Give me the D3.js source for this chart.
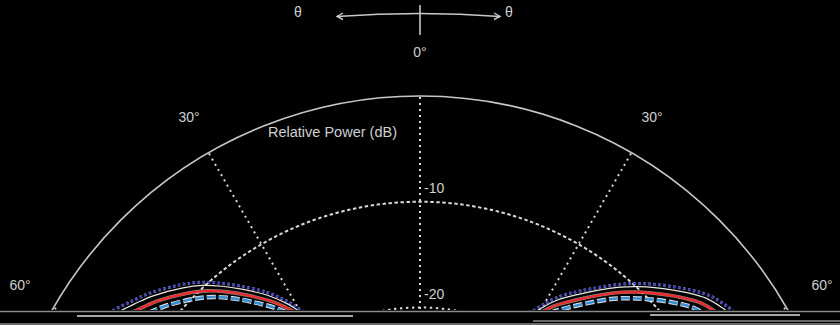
<!DOCTYPE html>
<html><head><meta charset="utf-8">
<script src="https://cdn.jsdelivr.net/npm/d3@7"></script>
<style>html,body{margin:0;padding:0;background:#000;}svg{display:block;}</style>
</head><body><div id="chart"></div>
<script>
// ---- data ----
const angleTicks = [-60, -30, 0, 30, 60];
const angleTickLabels = ["60°", "30°", "0°", "30°", "60°"];
const ringValues = [-10, -20];
const ringLabels = ["-10", "-20"];
const radialDomain = [-40, 0];

const angleL = [-58, -55.9, -52.7, -50.1, -45.7, -43.0, -40.4, -37.8, -34.1, -31.5, -29.9, -28];
const angleR = [28, 29.9, 32.2, 35.2, 40.5, 43.1, 45.7, 49.7, 52.4, 55.2, 58];

const navyL  = [-4.4, -4.9, -5.9, -6.7, -8.3, -9.4, -10.7, -12.1, -14.1, -15.8, -17.1, -18.5];
const whiteL = [-4.8, -5.3, -6.3, -7.1, -8.7, -9.8, -11.1, -12.5, -14.5, -16.2, -17.5, -18.9];
const redL   = [-5.5, -6.0, -7.0, -7.8, -9.4, -10.5, -11.8, -13.2, -15.2, -16.9, -18.2, -19.6];
const blueL  = [-6.3, -6.8, -7.8, -8.6, -10.2, -11.3, -12.6, -14.0, -16.0, -17.7, -19.0, -20.4];

const navyR  = [-18.0, -16.6, -15.1, -13.6, -10.8, -9.5, -8.3, -6.5, -5.4, -4.7, -4.1];
const whiteR = [-18.4, -17.0, -15.5, -14.0, -11.2, -9.9, -8.7, -6.9, -5.8, -5.1, -4.5];
const redR   = [-19.1, -17.7, -16.2, -14.7, -11.9, -10.6, -9.4, -7.6, -6.5, -5.8, -5.2];
const blueR  = [-19.9, -18.5, -17.0, -15.5, -12.7, -11.4, -10.2, -8.4, -7.3, -6.6, -6.0];

const axisTitle = "Relative Power (dB)";
const dirLabel = "θ";

// ---- layout ----
const W = 840, H = 325;
const cx = 420, cy = 519, R = 423, clipY = 310;
const svg = d3.select("#chart").append("svg").attr("width", W).attr("height", H)
  .style("background", "#000");

const r = d3.scaleLinear().domain(radialDomain).range([0, R]);
const toRad = d => d * Math.PI / 180;

const defs = svg.append("defs");
defs.append("clipPath").attr("id", "clip").append("rect")
  .attr("x", -cx).attr("y", -cy).attr("width", W).attr("height", clipY);

const g = svg.append("g").attr("transform", `translate(${cx},${cy})`);
const plot = g.append("g").attr("clip-path", "url(#clip)");

const gridCol = "#d8d8d8";

// outer ring (0 dB)
const arc = d3.arc();
plot.append("path")
  .attr("d", arc({innerRadius: r(0), outerRadius: r(0), startAngle: toRad(-90), endAngle: toRad(90)}))
  .attr("fill", "none").attr("stroke", "#c8c8c8").attr("stroke-width", 1.6);

// dotted rings
ringValues.forEach(v => {
  plot.append("path")
    .attr("d", arc({innerRadius: r(v), outerRadius: r(v), startAngle: toRad(-90), endAngle: toRad(90)}))
    .attr("fill", "none").attr("stroke", gridCol).attr("stroke-width", 2)
    .attr("stroke-dasharray", "2,4");
});

// radial lines
angleTicks.forEach(a => {
  const t = toRad(a);
  plot.append("line")
    .attr("x1", 0).attr("y1", 0)
    .attr("x2", r(0) * Math.sin(t)).attr("y2", -r(0) * Math.cos(t))
    .attr("stroke", gridCol).attr("stroke-width", 2).attr("stroke-dasharray", "2,4");
});

// series
const mk = (angles, vals) => angles.map((a, i) => [toRad(a), r(vals[i])]);
const line = d3.lineRadial().angle(d => d[0]).radius(d => d[1]).curve(d3.curveCatmullRom);

const series = [
  {L: blueL, Rv: blueR, color: "#ffffff", w: 4.5, dash: "9,3", op: 0.9},
  {L: blueL, Rv: blueR, color: "#3a8fd3", w: 2.6, dash: "9,3", op: 1},
  {L: redL, Rv: redR, color: "#ffffff", w: 3.6, dash: null, op: 0.5},
  {L: redL, Rv: redR, color: "#ee2a2a", w: 2.3, dash: null, op: 1},
  {L: whiteL, Rv: whiteR, color: "#e8e8e8", w: 1.2, dash: null, op: 1},
  {L: navyL, Rv: navyR, color: "#b8b8ee", w: 3, dash: "2.5,2.5", op: 0.8},
  {L: navyL, Rv: navyR, color: "#3434c4", w: 2, dash: "2.5,2.5", op: 1}
];
series.forEach(s => {
  [mk(angleL, s.L), mk(angleR, s.Rv)].forEach(pts => {
    plot.append("path").attr("d", line(pts))
      .attr("fill", "none").attr("stroke", s.color).attr("stroke-width", s.w)
      .attr("stroke-opacity", s.op)
      .attr("stroke-dasharray", s.dash);
  });
});

// labels
const font = "Liberation Sans, Arial, sans-serif";
const txtCol = "#cfcfcf";
const labelPos = {"-60": [20, 290], "-30": [189, 122], "0": [420, 57], "30": [652, 122], "60": [822, 290]};
angleTicks.forEach((a, i) => {
  const p = labelPos[String(a)];
  svg.append("text").attr("x", p[0]).attr("y", p[1]).attr("text-anchor", "middle")
    .attr("font-family", font).attr("font-size", 14).attr("fill", txtCol)
    .text(angleTickLabels[i]);
});
ringValues.forEach((v, i) => {
  svg.append("text").attr("x", cx + 4).attr("y", cy - r(v) - 9)
    .attr("font-family", font).attr("font-size", 14).attr("fill", txtCol)
    .text(ringLabels[i]);
});
svg.append("text").attr("x", 268).attr("y", 137)
  .attr("font-family", font).attr("font-size", 14).attr("fill", txtCol)
  .attr("textLength", 129).attr("lengthAdjust", "spacingAndGlyphs")
  .text(axisTitle);

// direction legend
svg.append("text").attr("x", 298).attr("y", 17).attr("text-anchor", "middle")
  .attr("font-family", font).attr("font-size", 14).attr("fill", txtCol).text(dirLabel);
svg.append("text").attr("x", 509).attr("y", 17).attr("text-anchor", "middle")
  .attr("font-family", font).attr("font-size", 14).attr("fill", txtCol).text(dirLabel);
const p = d3.path();
p.moveTo(337, 16.5); p.quadraticCurveTo(420, 10.5, 500, 16.5);
svg.append("path").attr("d", p.toString()).attr("fill", "none")
  .attr("stroke", "#c8c8c8").attr("stroke-width", 1.6);
const ah = d3.path();
ah.moveTo(343, 13); ah.lineTo(337, 16.5); ah.lineTo(343, 19.5);
ah.moveTo(494, 13); ah.lineTo(500, 16.5); ah.lineTo(494, 19.5);
svg.append("path").attr("d", ah.toString()).attr("fill", "none")
  .attr("stroke", "#c8c8c8").attr("stroke-width", 1.4);
svg.append("line").attr("x1", 420).attr("x2", 420).attr("y1", 5).attr("y2", 35)
  .attr("stroke", "#c8c8c8").attr("stroke-width", 1.6);

// bottom edge artefact lines
const bottom = svg.append("g");
[[0, 840, 311.5, "#8a8a8a", 1.5], [77, 353, 316, "#e0e0e0", 1.5], [650, 800, 315, "#e0e0e0", 1.5],
 [533, 840, 321, "#8a8a8a", 1.5], [0, 840, 324, "#8a8a8a", 1.5]].forEach(l => {
  bottom.append("line").attr("x1", l[0]).attr("x2", l[1]).attr("y1", l[2]).attr("y2", l[2])
    .attr("stroke", l[3]).attr("stroke-width", l[4]);
});
</script></body></html>
